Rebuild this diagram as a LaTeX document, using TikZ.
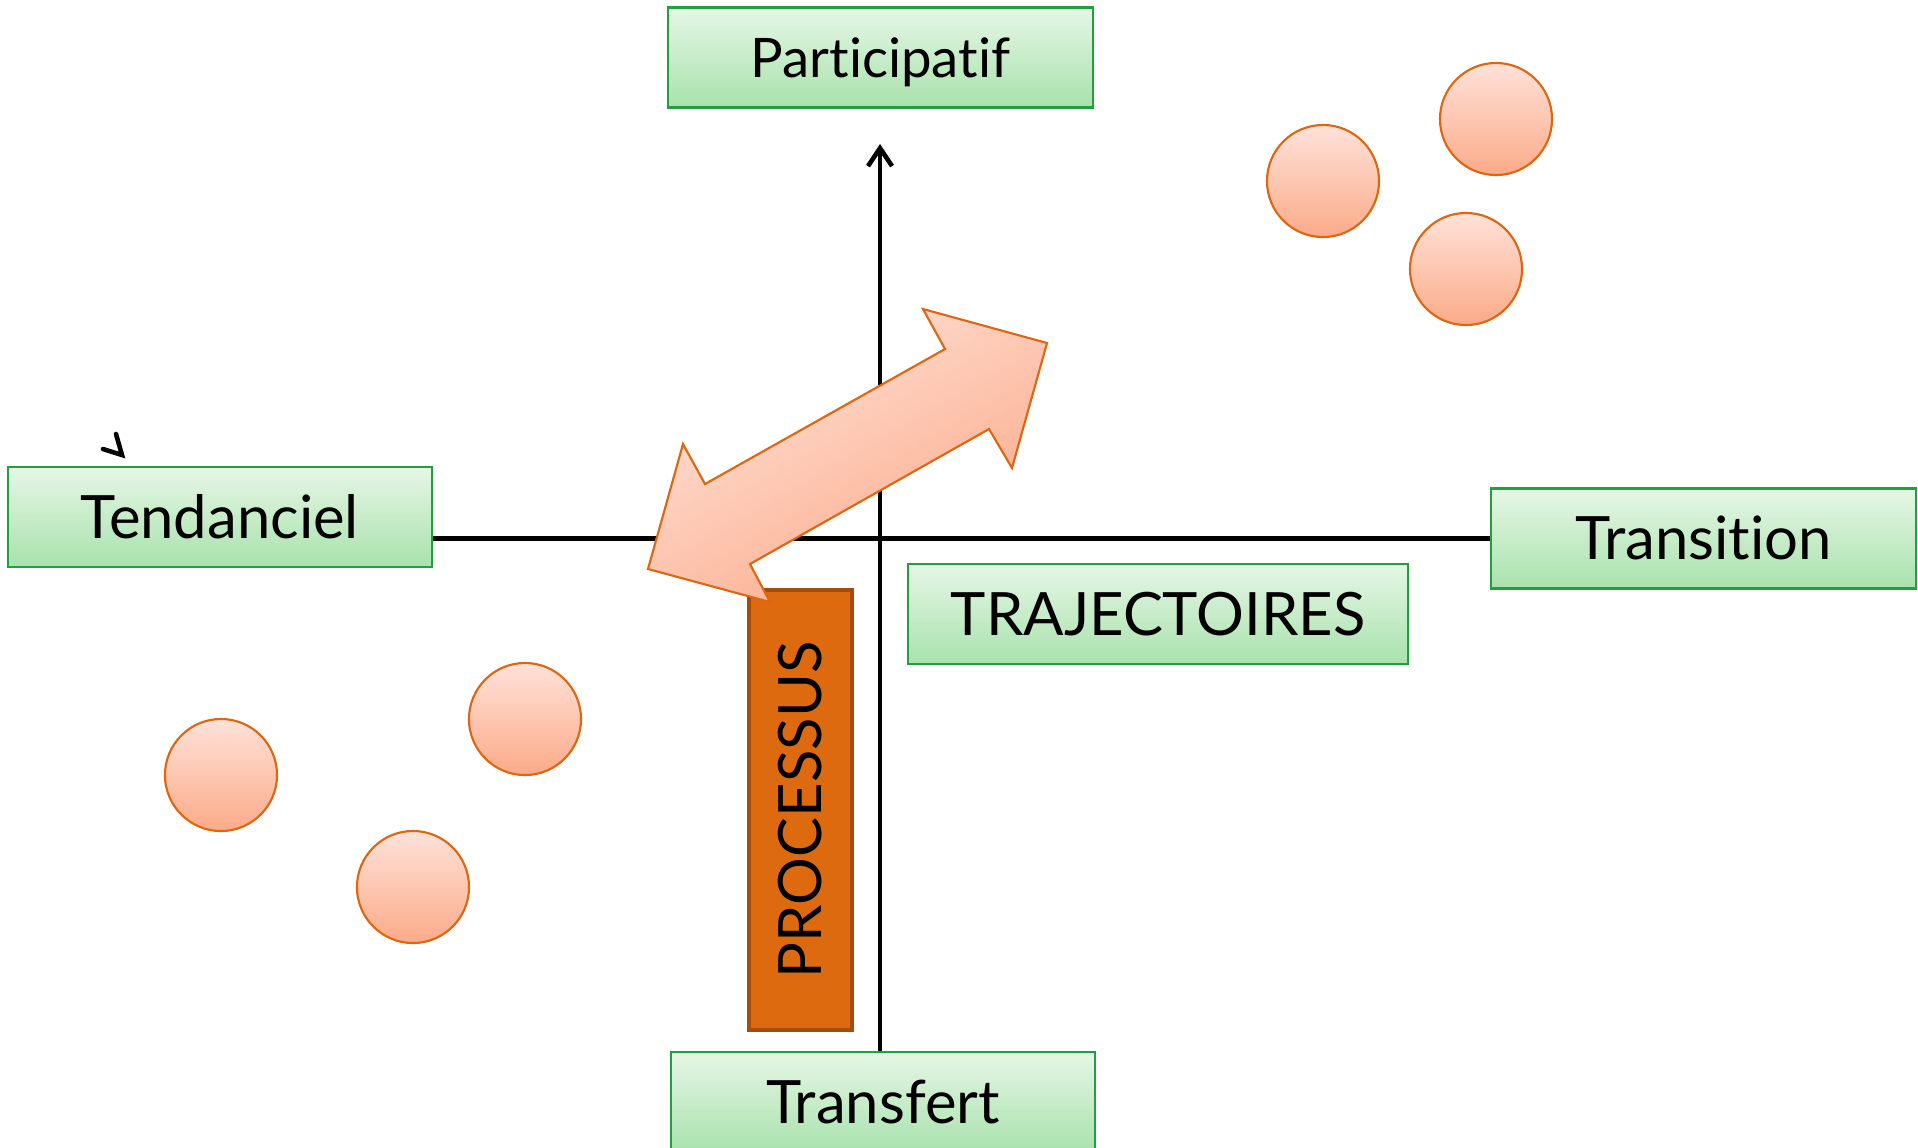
\documentclass[tikz,border=0pt]{standalone}
\usepackage{fontspec}
\setmainfont{Lato}[Ligatures=NoCommon, RawFeature=-liga]
\usetikzlibrary{positioning,shapes,arrows.meta}

\definecolor{boxline}{HTML}{23A03E}
\definecolor{greentop}{HTML}{E6F6E6}
\definecolor{greenbot}{HTML}{A8E2AC}
\definecolor{balltop}{HTML}{FFE2D9}
\definecolor{ballbot}{HTML}{FBAA88}
\definecolor{ballline}{HTML}{E0650F}
\definecolor{procfill}{HTML}{DE6A10}
\definecolor{procline}{HTML}{A64C0A}

\tikzset{
  labelbox/.style={draw=boxline, line width=0.6pt, top color=greentop, bottom color=greenbot,
    minimum width=4.24cm, minimum height=1cm, inner sep=0pt,
    font=\fontsize{17}{20}\selectfont, text height=12.2pt, text depth=0pt},
  ball/.style={circle, draw=ballline, line width=0.6pt, top color=balltop, bottom color=ballbot,
    minimum size=1.12cm, inner sep=0pt},
  processbox/.style={draw=procline, line width=1.15pt, fill=procfill,
    minimum width=4.4cm, minimum height=1.03cm, inner sep=0pt,
    font=\fontsize{17}{20}\selectfont, text height=12.2pt, text depth=0pt},
  axis/.style={line width=1.3pt},
  bigarrow/.style={draw=ballline, line width=0.6pt, line join=miter,
    shading=axis, top color=balltop, bottom color=ballbot, shading angle=30}
}

\begin{document}
\begin{tikzpicture}[x=0.01cm,y=-0.01cm]
\useasboundingbox (0,0) rectangle (1918,1147);

% the four poles
\node[labelbox, font=\fontsize{15.5}{18}\selectfont, text height=11.1pt] (particip) at (880.5,57.5) {Participatif};
\node[labelbox] (tendanciel) at (220,517) {Tendanciel};
\node[labelbox] (transition) at (1703.5,538.5) {Transition};
\node[labelbox] (transfert) at (883,1102) {Transfert};
\node[labelbox, minimum width=5cm] (traject) at (1158,614) {TRAJECTOIRES};

% axes
\coordinate (axistop) at (880,144);
\draw[axis] (tendanciel.east |- transition.west) -- (transition.west);
\draw[axis, -{Straight Barb[length=1.8mm,width=2.4mm]}] (transfert.north -| axistop) -- (axistop);

% balls
\foreach \n/\x/\y in {b1/1323/181, b2/1496/119, b3/1466/269, b4/221/775, b5/525/719, b6/413/887} {
    \node[ball] (\n) at (\x,\y) {};
}

\node[processbox, rotate=90] (processus) at (800.5,810) {PROCESSUS};

% double arrow
\draw[bigarrow] (1047,343) -- (923,309) -- (945,349) -- (705,484) -- (683,444) -- (648,569)
  -- (770,602) -- (750,564) -- (989,429) -- (1012,468) -- cycle;

\draw[line width=1.3pt, line cap=round] (116,434) -- (122,455) -- (103,449);
\end{tikzpicture}
\end{document}
